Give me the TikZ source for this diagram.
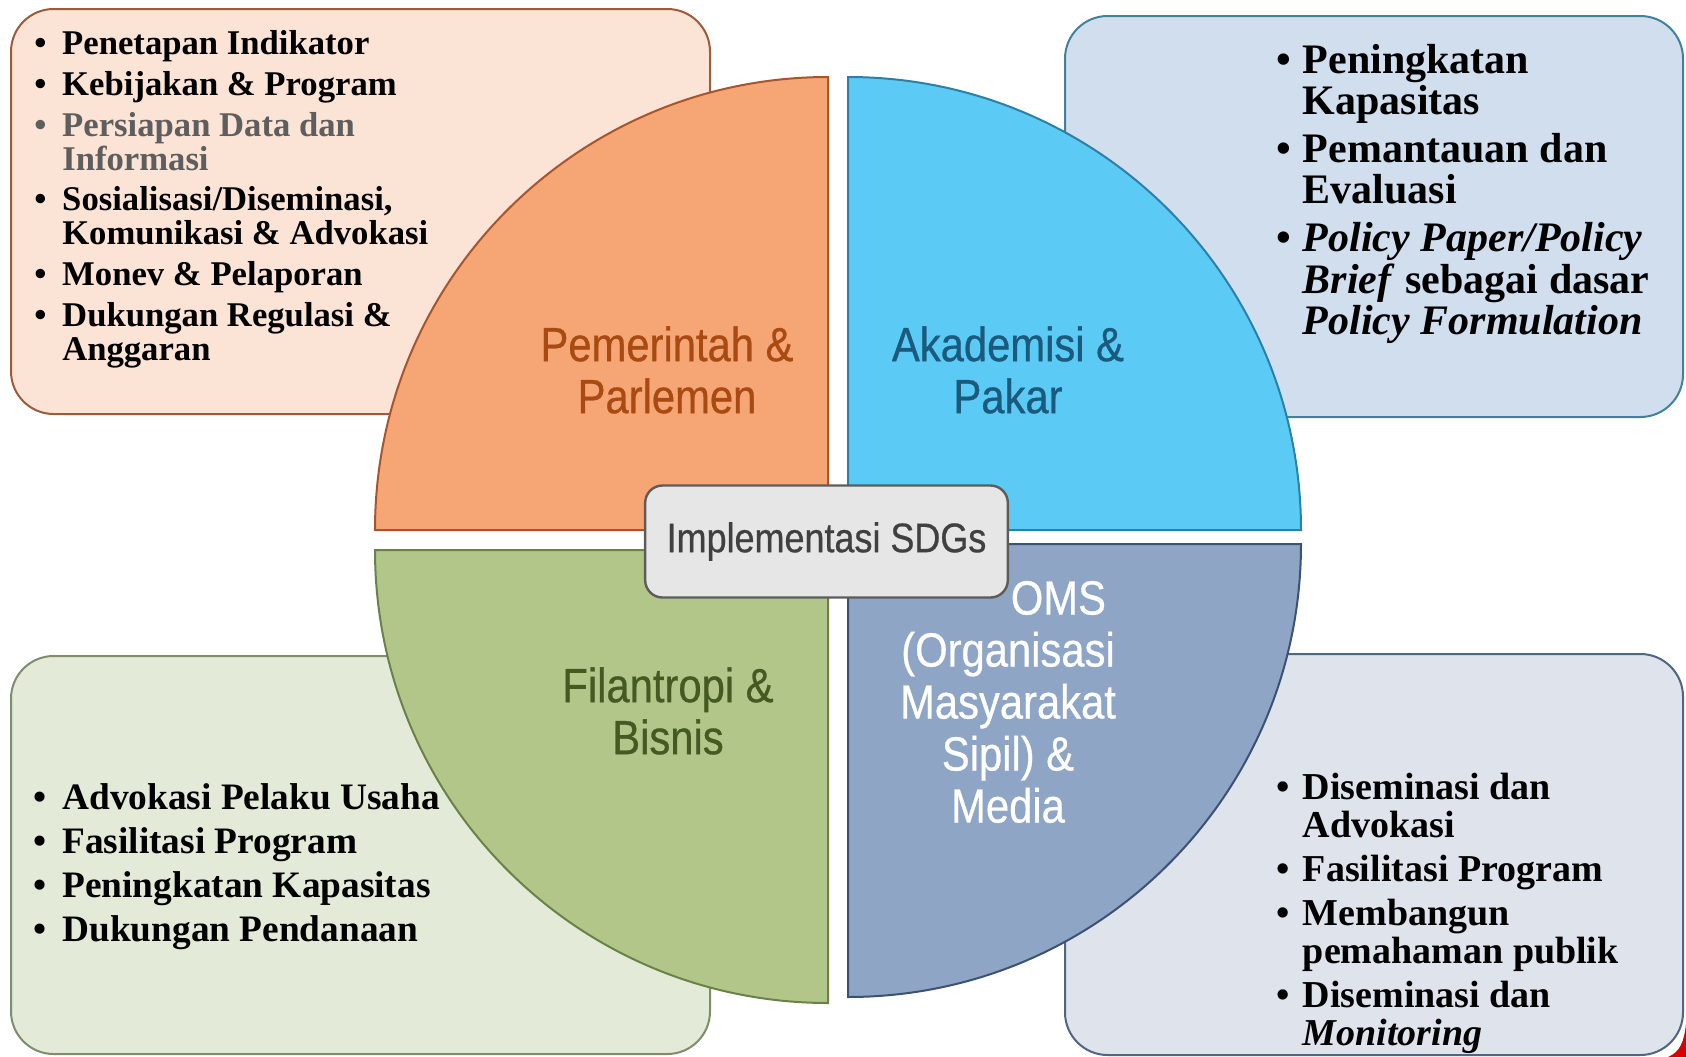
\documentclass[tikz,border=0pt]{standalone}
\usepackage{fontspec}
\setmainfont{Liberation Serif}
\newfontfamily\quadfont[FakeStretch=0.87,FakeBold=0.6]{Liberation Sans}

\definecolor{peachfill}{HTML}{FBE3D6}
\definecolor{peachline}{HTML}{9E5B3A}
\definecolor{skyfill}{HTML}{D0DEEE}
\definecolor{skyline}{HTML}{41829A}
\definecolor{sagefill}{HTML}{E3EAD8}
\definecolor{sageline}{HTML}{7E8E6A}
\definecolor{greyfill}{HTML}{DEE3EC}
\definecolor{greyline}{HTML}{52657F}
\definecolor{orangeq}{HTML}{F6A674}
\definecolor{orangeqline}{HTML}{A9542A}
\definecolor{blueq}{HTML}{5BCBF6}
\definecolor{blueqline}{HTML}{2F7EA3}
\definecolor{greenq}{HTML}{B2C68A}
\definecolor{greenqline}{HTML}{6A8247}
\definecolor{slateq}{HTML}{8EA5C6}
\definecolor{slateqline}{HTML}{3D5272}
\definecolor{orangetxt}{HTML}{A84A12}
\definecolor{bluetxt}{HTML}{1B5A7C}
\definecolor{greentxt}{HTML}{445A22}
\definecolor{graytxt}{HTML}{5E5E5E}
\definecolor{sdgfill}{HTML}{E6E6E6}
\definecolor{sdgline}{HTML}{5C5C5C}
\definecolor{sdgtxt}{HTML}{404040}

\newlength{\bulletgap}
\newcommand{\bitem}{\par\noindent\hangindent=\bulletgap\hangafter=1\makebox[\bulletgap][l]{\textbullet}}

\tikzset{
  outerbox/.style={rounded corners=32pt, line width=1.5pt},
  quadrant/.style={line width=1.5pt},
  listtext/.style={anchor=north west, inner sep=0pt, align=flush left},
  quadlabel/.style={align=center, inner sep=0pt, font=\quadfont\fontsize{36}{39}\selectfont},
}

\begin{document}
\begin{tikzpicture}[x=0.75pt,y=0.75pt,yscale=-1,xscale=1]
\useasboundingbox (0,0) rectangle (1686,1057);

%Rounded Rect [id:tl]
\draw [outerbox, draw=peachline, fill=peachfill] (11,9) rectangle (710,414);
%Rounded Rect [id:tr]
\draw [outerbox, draw=skyline, fill=skyfill] (1065,16) rectangle (1683,417);
%Rounded Rect [id:bl]
\draw [outerbox, draw=sageline, fill=sagefill] (11,656) rectangle (710,1054);
%Rounded Rect [id:br]
\draw [outerbox, draw=greyline, fill=greyfill] (1065,654) rectangle (1683,1055);
%Shape: corner
\fill [red!85!black] (1686,1024) .. controls (1684,1042) and (1680,1052) .. (1668,1057) -- (1686,1057) -- cycle ;

%Shape: quarter discs
\draw [quadrant, draw=orangeqline, fill=orangeq] (828,530) -- (375,530) arc [start angle=180, end angle=270, radius=453] -- cycle ;
\draw [quadrant, draw=blueqline, fill=blueq] (848,530) -- (848,77) arc [start angle=270, end angle=360, radius=453] -- cycle ;
\draw [quadrant, draw=greenqline, fill=greenq] (828,550) -- (375,550) arc [start angle=180, end angle=90, radius=453] -- cycle ;
\draw [quadrant, draw=slateqline, fill=slateq] (848,544) -- (1301,544) arc [start angle=0, end angle=90, radius=453] -- cycle ;

% Text Node
\node [quadlabel, text=orangetxt] (pemerintah) at (667,370) {Pemerintah \&\\Parlemen};
% Text Node
\node [quadlabel, text=bluetxt] (akademisi) at (1008,370) {Akademisi \&\\Pakar};
% Text Node
\node [quadlabel, text=greentxt] (filantropi) at (668,711) {Filantropi \&\\Bisnis};
% Text Node
\node [quadlabel, text=white] (oms) at (1008,702) {\hspace*{2.1em}OMS\\(Organisasi\\Masyarakat\\Sipil) \&\\Media};

% Text Node
\node [draw=sdgline, fill=sdgfill, line width=1.8pt, rounded corners=13pt, minimum width=272pt, minimum height=84pt, inner sep=0pt, text=sdgtxt, font=\quadfont\fontsize{31}{34}\selectfont] (sdgs) at (826.5,541.5) {Implementasi SDGs};

% Text Node
\node [listtext, text width=330pt, font=\fontsize{26}{25.5}\selectfont\bfseries] (govlist) at (34,14) {\setlength{\bulletgap}{21pt}\setlength{\parskip}{5pt}%
\bitem Penetapan Indikator
\bitem Kebijakan \& Program
{\color{graytxt}\bitem Persiapan Data dan\newline Informasi\par}
\bitem Sosialisasi/Diseminasi,\newline Komunikasi \& Advokasi
\bitem Monev \& Pelaporan
\bitem Dukungan Regulasi \&\newline Anggaran\par};
% Text Node
\node [listtext, text width=300pt, font=\fontsize{31.5}{31}\selectfont\bfseries] (acadlist) at (1276,25) {\setlength{\bulletgap}{20pt}\setlength{\parskip}{5pt}%
\bitem Peningkatan\newline Kapasitas
\bitem Pemantauan dan\newline Evaluasi
\bitem \textit{Policy Paper/Policy}\newline \textit{Brief} sebagai dasar\newline \textit{Policy Formulation}\par};
% Text Node
\node [listtext, text width=330pt, font=\fontsize{28}{28}\selectfont\bfseries] (bizlist) at (33.5,765) {\setlength{\bulletgap}{21.5pt}\setlength{\parskip}{5pt}%
\bitem Advokasi Pelaku Usaha
\bitem Fasilitasi Program
\bitem Peningkatan Kapasitas
\bitem Dukungan Pendanaan\par};
% Text Node
\node [listtext, text width=300pt, font=\fontsize{28.5}{28.5}\selectfont\bfseries] (omslist) at (1276,755) {\setlength{\bulletgap}{20pt}\setlength{\parskip}{4.5pt}%
\bitem Diseminasi dan\newline Advokasi
\bitem Fasilitasi Program
\bitem Membangun\newline pemahaman publik
\bitem Diseminasi dan\newline \textit{Monitoring}\par};

\end{tikzpicture}
\end{document}
